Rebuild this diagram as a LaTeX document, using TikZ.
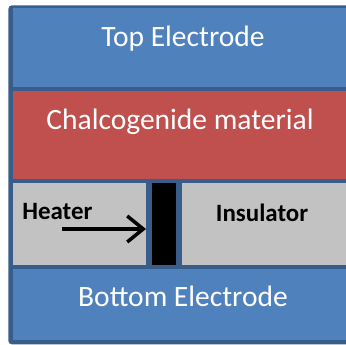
\documentclass[tikz,border=0pt]{standalone}
\usepackage{fontspec}
\setmainfont{Carlito}
\usepackage{tikz}
\usetikzlibrary{arrows.meta, positioning, calc}

\definecolor{edgeblue}{RGB}{56,93,138}
\definecolor{layerblue}{RGB}{79,129,189}
\definecolor{layerred}{RGB}{192,80,77}
\definecolor{cellgray}{RGB}{194,194,194}

\begin{document}
\begin{tikzpicture}[
        layer/.style={rectangle, anchor=north west, inner sep=0pt, outer sep=0pt, minimum width=6.8cm},
        cell/.style={rectangle, anchor=north west, inner sep=0pt, outer sep=0pt, minimum height=1.64cm},
        lbl/.style={inner sep=0pt, text=white, font=\fontsize{16.8}{18}\selectfont},
        celllbl/.style={inner sep=0pt, text=black, font=\fontsize{14.2}{16}\selectfont\bfseries},
        heatarrow/.style={-{Straight Barb[length=0.32cm, width=0.52cm, line width=0.07cm]}, line width=0.07cm, black}
    ]
        \useasboundingbox (0,0) rectangle (6.92,6.90);
        \clip (0,0) rectangle (6.92,6.90);

        % Cell frame
        \node[rectangle, anchor=north west, fill=edgeblue, rounded corners=2pt, inner sep=0pt,
              minimum width=6.9cm, minimum height=6.78cm] (frame) at (0.16, 6.80) {};

        % Top Electrode
        \node[layer, fill=layerblue, minimum height=1.58cm] (top) at (0.26, 6.74) {};
        \node[lbl, anchor=base] (toptxt) at ([yshift=-0.78cm]top.north) {Top Electrode};

        % Chalcogenide material
        \node[layer, fill=layerred, minimum height=1.76cm] (chal) at (0.26, 5.08) {};
        \node[lbl, anchor=base] (chaltxt) at ([xshift=-0.06cm, yshift=-0.78cm]chal.north) {Chalcogenide material};

        % Heater, bar and Insulator
        \node[cell, fill=cellgray, minimum width=2.66cm] (heater) at (0.26, 3.24) {};
        \node[cell, fill=black, minimum width=0.48cm] (bar) at (3.04, 3.24) {};
        \node[cell, fill=cellgray, minimum width=3.42cm] (insul) at (3.64, 3.24) {};
        \node[celllbl, anchor=base west] (heatertxt) at ([xshift=0.18cm, yshift=-0.73cm]heater.north west) {Heater};
        \node[celllbl, anchor=base] (insultxt) at ([xshift=-0.11cm, yshift=-0.78cm]insul.north) {Insulator};

        % Bottom Electrode
        \node[layer, fill=layerblue, minimum height=1.42cm] (bottom) at (0.26, 1.52) {};
        \node[lbl, anchor=base] (bottomtxt) at ([yshift=-0.75cm]bottom.north) {Bottom Electrode};

        % Arrow
        \coordinate (hstart) at (1.24, 2.32);
        \draw[heatarrow] (hstart) -- (hstart -| heater.east);

    \end{tikzpicture}
\end{document}
